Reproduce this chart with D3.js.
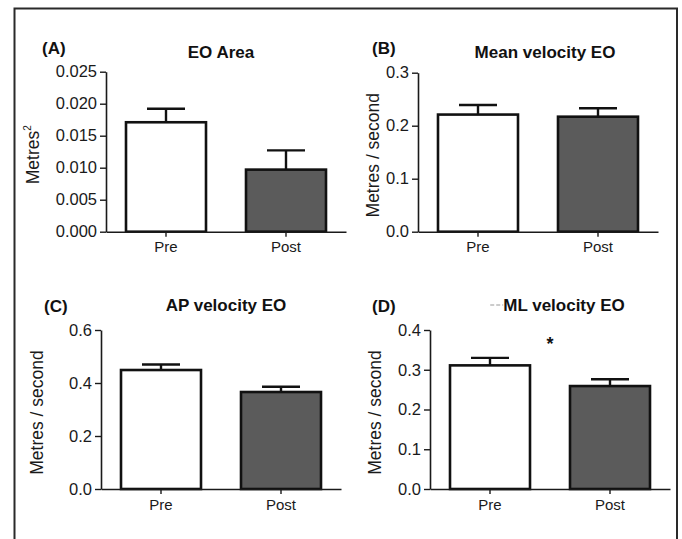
<!DOCTYPE html>
<html>
<head>
<meta charset="utf-8">
<script src="https://cdn.jsdelivr.net/npm/d3@7"></script>
<style>
  html, body { margin: 0; padding: 0; background: #fff; }
  svg { display: block; }
  text { font-family: "Liberation Sans", Arial, sans-serif; }
</style>
</head>
<body>
<svg id="chart" width="682" height="539"></svg>
<script>
// Groups on the x axis of every panel
const groups = ["Pre", "Post"];

// Panel headings
const panelLetters = ["(A)", "(B)", "(C)", "(D)"];
const panelTitles = ["EO Area", "Mean velocity EO", "AP velocity EO", "ML velocity EO"];
const yAxisLabels = ["Metres", "Metres / second", "Metres / second", "Metres / second"];

// Means and SEM for each panel (Pre, Post)
const areaMean = [0.0171, 0.0097];
const areaSem = [0.0021, 0.0030];
const meanVelMean = [0.221, 0.217];
const meanVelSem = [0.018, 0.016];
const apVelMean = [0.449, 0.366];
const apVelSem = [0.021, 0.020];
const mlVelMean = [0.311, 0.259];
const mlVelSem = [0.019, 0.017];

// Y tick values for each panel
const areaTicks = [0, 0.005, 0.010, 0.015, 0.020, 0.025];
const meanVelTicks = [0, 0.1, 0.2, 0.3];
const apVelTicks = [0, 0.2, 0.4, 0.6];
const mlVelTicks = [0, 0.1, 0.2, 0.3, 0.4];

const svg = d3.select("#chart");

// Outer frame (open at the bottom)
svg.append("path")
  .attr("d", "M14.5,539 L14.5,8.5 L677,8.5 L677,539")
  .attr("fill", "none")
  .attr("stroke", "#2a2a2a")
  .attr("stroke-width", 2);

const panels = [
  { mean: areaMean, sem: areaSem, ticks: areaTicks, fmt: d3.format(".3f"),
    x0: 106, yTop: 71.7, yBot: 231.7, letterX: 42, letterY: 48, titleX: 221, titleY: 52,
    labelX: 33, sup: true },
  { mean: meanVelMean, sem: meanVelSem, ticks: meanVelTicks, fmt: d3.format(".1f"),
    x0: 418, yTop: 72.7, yBot: 231.7, letterX: 372, letterY: 48, titleX: 545, titleY: 52,
    labelX: 373 },
  { mean: apVelMean, sem: apVelSem, ticks: apVelTicks, fmt: d3.format(".1f"),
    x0: 101, yTop: 330, yBot: 489, letterX: 44, letterY: 306, titleX: 226, titleY: 305,
    labelX: 37 },
  { mean: mlVelMean, sem: mlVelSem, ticks: mlVelTicks, fmt: d3.format(".1f"),
    x0: 430, yTop: 330, yBot: 489, letterX: 372, letterY: 306, titleX: 564, titleY: 305,
    labelX: 375, star: true }
];

const fills = ["#ffffff", "#5b5b5b"];

panels.forEach((p, i) => {
  const g = svg.append("g");

  const x = d3.scaleBand()
    .domain(groups)
    .range([p.x0, p.x0 + 240])
    .paddingInner(1 / 3)
    .paddingOuter(1 / 6);

  const y = d3.scaleLinear()
    .domain([p.ticks[0], p.ticks[p.ticks.length - 1]])
    .range([p.yBot, p.yTop]);

  // Bars
  g.selectAll("rect.bar")
    .data(groups)
    .join("rect")
    .attr("class", "bar")
    .attr("x", d => x(d))
    .attr("width", x.bandwidth())
    .attr("y", (d, j) => y(p.mean[j]))
    .attr("height", (d, j) => y(0) - y(p.mean[j]))
    .attr("fill", (d, j) => fills[j])
    .attr("stroke", "#111")
    .attr("stroke-width", 2.6);

  // Upper error bars
  groups.forEach((d, j) => {
    const cx = x(d) + x.bandwidth() / 2;
    const top = y(p.mean[j] + p.sem[j]);
    g.append("line")
      .attr("x1", cx).attr("x2", cx)
      .attr("y1", y(p.mean[j])).attr("y2", top)
      .attr("stroke", "#111").attr("stroke-width", 2.4);
    g.append("line")
      .attr("x1", cx - 19).attr("x2", cx + 19)
      .attr("y1", top).attr("y2", top)
      .attr("stroke", "#111").attr("stroke-width", 2.4);
  });

  // Y axis
  const yAxis = g.append("g")
    .attr("transform", `translate(${p.x0},0)`)
    .call(d3.axisLeft(y).tickValues(p.ticks).tickFormat(p.fmt)
      .tickSize(6).tickSizeOuter(0).tickPadding(3));
  yAxis.select(".domain").attr("stroke", "#1a1a1a").attr("stroke-width", 1.6);
  yAxis.selectAll(".tick line").attr("stroke", "#1a1a1a").attr("stroke-width", 1.4);
  yAxis.selectAll(".tick text")
    .attr("font-size", 16.5)
    .attr("fill", "#1a1a1a")
    .style("font-family", "'Liberation Sans', Arial, sans-serif");

  // X axis
  const xAxis = g.append("g")
    .attr("transform", `translate(0,${p.yBot})`)
    .call(d3.axisBottom(x).tickSize(5).tickSizeOuter(0).tickPadding(5));
  xAxis.select(".domain").attr("stroke", "#1a1a1a").attr("stroke-width", 1.6);
  xAxis.selectAll(".tick line").attr("stroke", "#1a1a1a").attr("stroke-width", 1.4);
  xAxis.selectAll(".tick text")
    .attr("font-size", 15)
    .attr("fill", "#1a1a1a")
    .style("font-family", "'Liberation Sans', Arial, sans-serif");

  // Y axis title (rotated)
  const midY = (p.yTop + p.yBot) / 2 + 3;
  const yl = g.append("text")
    .attr("transform", `translate(${p.labelX},${midY}) rotate(-90)`)
    .attr("text-anchor", "middle")
    .attr("dominant-baseline", "central")
    .attr("font-size", 17.5)
    .attr("fill", "#1a1a1a")
    .text(yAxisLabels[i]);
  if (p.sup) {
    yl.append("tspan")
      .attr("font-size", 10)
      .attr("baseline-shift", "super")
      .text("2");
  }

  // Panel letter
  g.append("text")
    .attr("x", p.letterX).attr("y", p.letterY)
    .attr("dominant-baseline", "central")
    .attr("font-size", 17)
    .attr("font-weight", "bold")
    .attr("fill", "#111")
    .text(panelLetters[i]);

  // Panel title
  const title = g.append("text")
    .attr("x", p.titleX).attr("y", p.titleY)
    .attr("text-anchor", "middle")
    .attr("dominant-baseline", "central")
    .attr("font-size", 17)
    .attr("font-weight", "bold")
    .attr("fill", "#111")
    .text(panelTitles[i]);

  if (p.star) {
    // Faint dash in front of the title and the significance marker
    const bb = title.node().getBBox();
    g.append("line")
      .attr("x1", bb.x - 13).attr("x2", bb.x)
      .attr("y1", p.titleY).attr("y2", p.titleY)
      .attr("stroke", "#999").attr("stroke-width", 1.2)
      .attr("stroke-dasharray", "4,2");
    g.append("text")
      .attr("x", (x("Pre") + x("Post") + x.bandwidth()) / 2)
      .attr("y", 350)
      .attr("text-anchor", "middle")
      .attr("font-size", 18)
      .attr("font-weight", "bold")
      .attr("fill", "#111")
      .text("*");
  }
});
</script>
</body>
</html>
